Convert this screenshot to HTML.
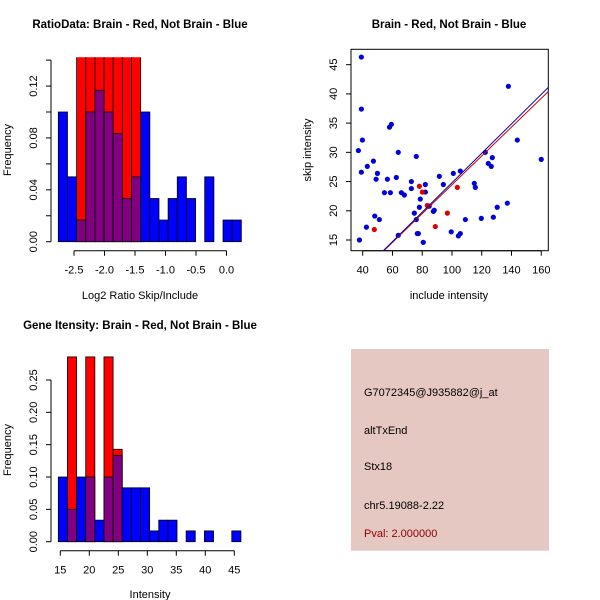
<!DOCTYPE html>
<html><head><meta charset="utf-8"><style>
body{margin:0;background:#fff;}
svg{display:block;font-family:"Liberation Sans",Arial,sans-serif;}
</style></head><body>
<svg id="c" width="600" height="600" viewBox="0 0 600 600">
<rect x="0" y="0" width="600" height="600" fill="#fff"/>
<defs>
<clipPath id="clipA"><rect x="0" y="57.3" width="300" height="200"/></clipPath>
<clipPath id="clipB"><rect x="351" y="49.3" width="197.3" height="201.4"/></clipPath>
</defs>
<text x="140" y="28" text-anchor="middle" font-size="11.5" font-weight="bold">RatioData: Brain - Red, Not Brain - Blue</text>
<text x="449" y="28" text-anchor="middle" font-size="11.5" font-weight="bold">Brain - Red, Not Brain - Blue</text>
<text x="140" y="329" text-anchor="middle" font-size="11.5" font-weight="bold">Gene Itensity: Brain - Red, Not Brain - Blue</text>
<rect x="351" y="349" width="198" height="201.7" fill="#E6C8C2"/>
<g font-size="11" fill="#000">
<text x="364" y="396">G7072345@J935882@j_at</text>
<text x="364" y="434">altTxEnd</text>
<text x="364" y="470">Stx18</text>
<text x="364" y="509">chr5.19088-2.22</text>
<text x="364" y="537" fill="#8B0000">Pval: 2.000000</text>
</g>
<g id="g"></g>
</svg>
<script>
// ---- Ratio histogram data ----
const ratioBinStart = -2.757, ratioBinWidth = 0.15;
const ratioBlue = [0.10,0.05,0.0167,0.10,0.1167,0.10,0.0833,0.0333,0.05,0.10,0.0333,0.0167,0.0333,0.05,0.0333,0,0.05,0,0.0167,0.0167];
const ratioRed  = [0,0,0.16,0.16,0.16,0.16,0.16,0.16,0.16,0,0,0,0,0,0,0,0,0,0,0];
const ratioXTicks = [-2.5,-2.0,-1.5,-1.0,-0.5,0.0];
const ratioXLabels = ["-2.5","-2.0","-1.5","-1.0","-0.5","0.0"];
const ratioYTicks = [0,0.02,0.04,0.06,0.08,0.10,0.12,0.14];
const ratioYLabels = ["0.00","","0.04","","0.08","","0.12",""];
// ---- Intensity histogram data ----
const intBinStart = 14.66, intBinWidth = 1.574;
const intBlue = [0.10,0.05,0.10,0.10,0.0333,0.10,0.1333,0.0833,0.0833,0.0833,0.0167,0.0333,0.0333,0,0.0167,0,0.0167,0,0,0.0167];
const intRed  = [0,0.2857,0,0.2857,0,0.2857,0.1429,0,0,0,0,0,0,0,0,0,0,0,0,0];
const intXTicks = [15,20,25,30,35,40,45];
const intYTicks = [0,0.05,0.10,0.15,0.20,0.25];
const intYLabels = ["0.00","0.05","0.10","0.15","0.20","0.25"];
// ---- Scatter data ----
const blueX = [39.1,39.1,39.8,37.1,39.1,37.8,43.1,42.5,47.2,49.9,49,48.1,51.2,54.6,56.6,58,59.3,58.6,63.9,62.6,63.9,66,68,72.7,72.7,76,74.7,76,76.7,77.4,78.1,78.7,80.7,82.1,82.1,84.1,84.7,87.5,88.1,91.5,94.2,100.9,99.5,105.6,104.3,105.6,109,115,115.7,119.7,122.4,124.4,126.4,127.1,127.8,130.4,137.2,137.9,143.9,160];
const blueY = [46.3,37.4,32.1,30.3,26.6,15,27.6,17.2,28.5,26.4,25.4,19.1,18.5,23.1,25.4,34.3,34.8,23.1,30.0,25.7,15.8,23.1,22.7,25.0,23.8,29.3,19.6,18.5,16.1,16.1,20.6,22.0,14.6,24.5,23.2,20.8,20.8,19.9,20.1,25.9,24.5,26.4,16.4,26.8,15.7,16.1,18.5,24.7,24.0,18.7,30.0,28.1,27.6,29.1,18.9,20.6,21.3,41.3,32.1,28.8];
const redX = [47.8,78.1,80.1,83.4,88.8,96.9,103.6];
const redY = [16.8,24.2,23.2,20.9,17.3,19.6,24.0];
const fitBlue = [-0.40,0.252]; // intercept, slope
const fitRed  = [-0.20,0.2465];
const scXTicks = [40,60,80,100,120,140,160];
const scYTicks = [15,20,25,30,35,40,45];

const NS="http://www.w3.org/2000/svg", G=document.getElementById('g');
function mk(t,a,p){const e=document.createElementNS(NS,t);for(const k in a)e.setAttribute(k,a[k]);(p||G).appendChild(e);return e;}

const rx = v => 74 + (v + 2.5) * 61;
const ry = v => 241.7 - v * 1297;
const ix = v => 60.3 + (v - 15) * 5.8;
const iy = v => 541.7 - v * 646.8;
const sx = v => 362.7 + (v - 40) * 1.488;
const sy = v => 240 - (v - 15) * 5.844;

function hist(blue, red, start, w, xf, yf, clip, prefix){
  const g = mk('g', clip ? {'clip-path':clip} : {});
  
  
  for(let i=0;i<blue.length;i++){
    const x0 = xf(start+i*w), x1 = xf(start+(i+1)*w);
    const b=blue[i], r=red[i];
    const hi = Math.max(b,r), lo = Math.min(b,r);
    if(hi>0){
      const e = mk('rect',{x:x0,y:yf(hi),width:x1-x0,height:yf(0)-yf(hi),fill:r>b?'#FF0000':'#0000FF',stroke:'#000','stroke-width':0.8},g);
      
      
    }
    if(lo>0){
      const e = mk('rect',{x:x0,y:yf(lo),width:x1-x0,height:yf(0)-yf(lo),fill:'#800080',stroke:'#000','stroke-width':0.8},g);
      
      
    }
  }
}
function xAxis(ticks, labels, xf, y, name){
  const g=mk('g',{});
  
  
  mk('line',{x1:xf(ticks[0]),x2:xf(ticks[ticks.length-1]),y1:y,y2:y,stroke:'#000'},g);
  ticks.forEach((t,i)=>{
    mk('line',{x1:xf(t),x2:xf(t),y1:y,y2:y+5,stroke:'#000'},g);
    const tx=mk('text',{x:xf(t),y:y+23,'text-anchor':'middle','font-size':11},g);
    tx.textContent=labels[i];
  });
}
function yAxis(ticks, labels, yf, x, name){
  const g=mk('g',{});
  
  
  mk('line',{x1:x,x2:x,y1:yf(ticks[0]),y2:yf(ticks[ticks.length-1]),stroke:'#000'},g);
  ticks.forEach((t,i)=>{
    mk('line',{x1:x-5,x2:x,y1:yf(t),y2:yf(t),stroke:'#000'},g);
    if(labels[i]){
      const tx=mk('text',{x:x-14,y:yf(t),'text-anchor':'middle','font-size':11,transform:`rotate(-90 ${x-14} ${yf(t)})`},g);
      tx.textContent=labels[i];
    }
  });
}
function label(txt,x,y,rot,name){
  const t=mk('text',{x:x,y:y,'text-anchor':'middle','font-size':11});
  if(rot) t.setAttribute('transform',`rotate(-90 ${x} ${y})`);
  t.textContent=txt;
  
  
}

hist(ratioBlue, ratioRed, ratioBinStart, ratioBinWidth, rx, ry, 'url(#clipA)', 'ratio');
xAxis(ratioXTicks, ratioXLabels, rx, 250.7, 'ratio-x-axis');
yAxis(ratioYTicks, ratioYLabels, ry, 51, 'ratio-y-axis');
label('Log2 Ratio Skip/Include', 140, 299, false, 'ratio-x-title');
label('Frequency', 11, 150, true, 'ratio-y-title');

hist(intBlue, intRed, intBinStart, intBinWidth, ix, iy, null, 'intensity');
xAxis(intXTicks, intXTicks.map(String), ix, 550.7, 'intensity-x-axis');
yAxis(intYTicks, intYLabels, iy, 51, 'intensity-y-axis');
label('Intensity', 150, 598, false, 'intensity-x-title');
label('Frequency', 11, 450, true, 'intensity-y-title');

const box=mk('rect',{x:351,y:49.3,width:197.3,height:201.4,fill:'none',stroke:'#000'});


xAxis(scXTicks, scXTicks.map(String), sx, 250.7, 'scatter-x-axis');
yAxis(scYTicks, scYTicks.map(String), sy, 351, 'scatter-y-axis');
label('include intensity', 449, 299, false, 'scatter-x-title');
label('skip intensity', 311, 150, true, 'scatter-y-title');
const pg=mk('g',{'clip-path':'url(#clipB)'});


blueX.forEach((x,i)=>{
  const c=mk('circle',{cx:sx(x),cy:sy(blueY[i]),r:2.6,fill:'#0000DD'},pg);
  
  
});
redX.forEach((x,i)=>{
  const c=mk('circle',{cx:sx(x),cy:sy(redY[i]),r:2.6,fill:'#DD0000'},pg);
  
  
});
[[fitRed,'#CC0000','red-fit-line'],[fitBlue,'#0000AA','blue-fit-line']].forEach(([f,col,nm])=>{
  const x0=30,x1=180;
  const l=mk('line',{x1:sx(x0),y1:sy(f[0]+f[1]*x0),x2:sx(x1),y2:sy(f[0]+f[1]*x1),stroke:col,'stroke-width':1},pg);
  
  
});
</script>
</body></html>
